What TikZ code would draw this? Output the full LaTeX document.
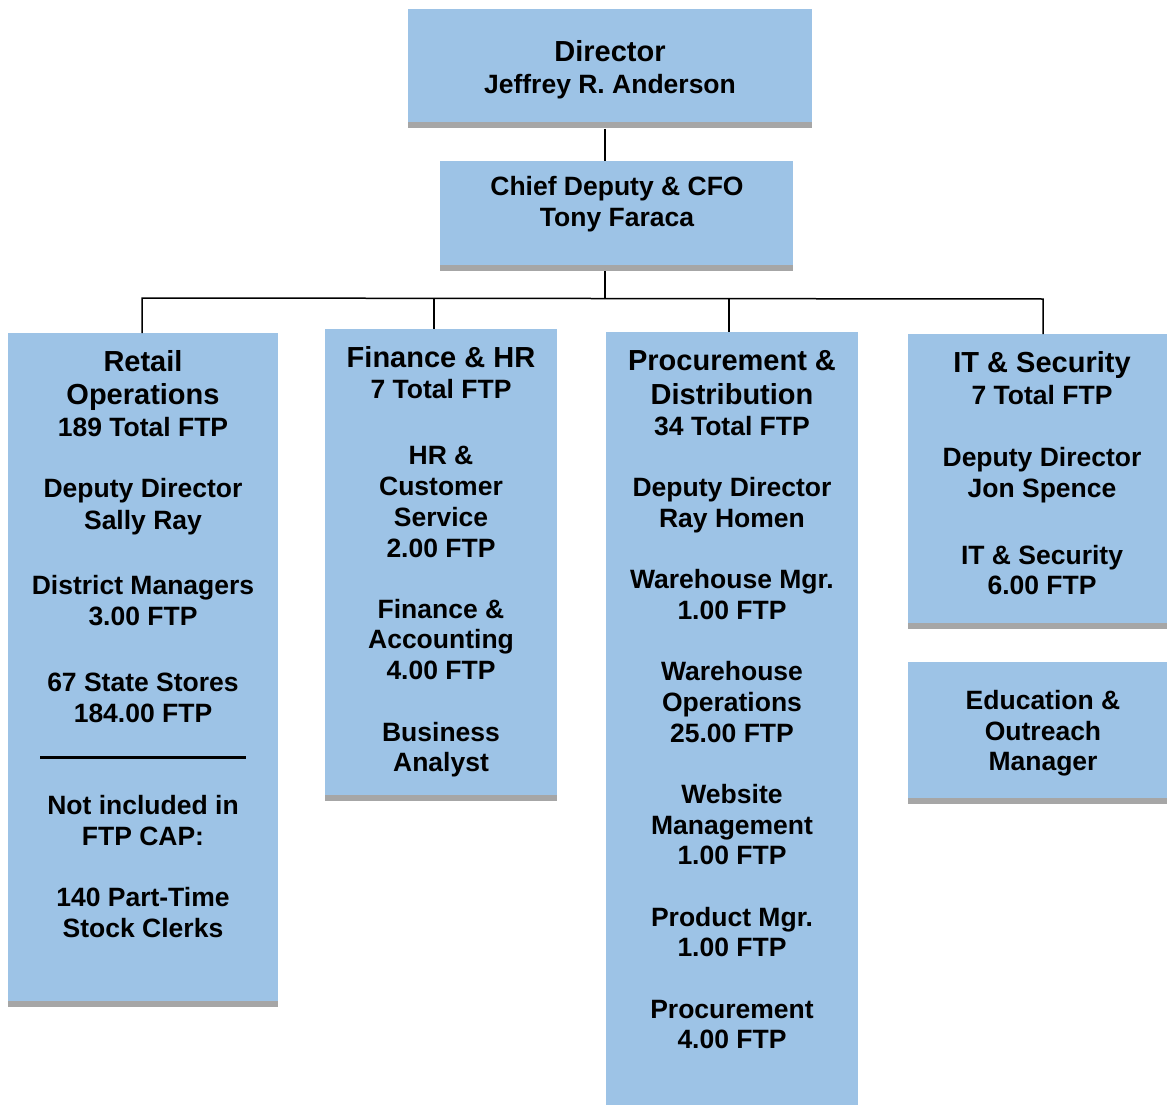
\documentclass[tikz,border=0pt]{standalone}
\usepackage{fontspec}
\setmainfont{Liberation Sans}
\definecolor{boxblue}{HTML}{9DC3E6}
\definecolor{shade}{HTML}{A6A6A6}
\begin{document}
\begin{tikzpicture}[x=1pt,y=-1pt,
  box/.style={fill=boxblue, draw=none, inner sep=0pt, anchor=north west},
  shd/.style={fill=shade},
  tl/.style={font=\fontsize{26.5}{31}\bfseries\selectfont, inner sep=0pt, anchor=base},
  hl/.style={font=\fontsize{29}{34}\bfseries\selectfont, inner sep=0pt, anchor=base},
  conn/.style={line width=1.5pt, black}]
\useasboundingbox (0,0) rectangle (1167,1105);
\clip (0,0) rectangle (1167,1105);
% boxes
\node[box, minimum width=404pt, minimum height=113pt] (dir) at (408,9) {};
\node[box, minimum width=353pt, minimum height=104pt] (chief) at (440,161) {};
\node[box, minimum width=270pt, minimum height=668pt] (ret) at (8,333) {};
\node[box, minimum width=232pt, minimum height=466pt] (fin) at (325,329) {};
\node[box, minimum width=252pt, minimum height=790pt] (proc) at (606,332) {};
\node[box, minimum width=268pt, minimum height=289pt] (it) at (908,334) {};
\node[box, minimum width=268pt, minimum height=136pt] (edu) at (908,662) {};
% shadows
\foreach \b in {dir,chief,ret,fin,it,edu}{
  \fill[shd] (\b.south west) rectangle ([yshift=-6pt]\b.south east);
}
% connectors
\coordinate (jD) at (605,129);
\coordinate (bar) at (605,298);
\coordinate (jR) at (142,298);
\coordinate (jF) at (434,298);
\coordinate (jP) at (729,298);
\coordinate (jI) at (1043,299);
\draw[conn] (jD) -- (jD |- chief.north);
\draw[conn] ([yshift=-6pt]chief.south -| bar) -- (bar);
\draw[conn] (jR |- ret.north) -- (jR) -- (jI) -- (jI |- it.north);
\draw[conn] (jF) -- (jF |- fin.north);
\draw[conn] (jP) -- (jP |- proc.north);
% rule in retail box
\coordinate (rl) at (40,757);
\coordinate (rr) at (246,757);
\draw[line width=3pt] (rl) -- (rr);
% texts
\node[hl] (dirH) at (610,61.4) {Director};
\node[tl] (dirT) at (610,93.5) {Jeffrey R. Anderson};
\node[tl] (chT1) at (617,195.5) {Chief Deputy \& CFO};
\node[tl] (chT2) at (617,226.5) {Tony Faraca};
\foreach \y/\s [count=\i] in {371.4/Retail,404.4/Operations}
  \node[hl] (retH\i) at (143,\y) {\s};
\foreach \y/\s [count=\i] in {436.5/189 Total FTP,497.5/Deputy Director,529.5/Sally Ray,594.5/District Managers,625.5/3.00 FTP,691.5/67 State Stores,722.5/184.00 FTP,814.5/Not included in,845.5/FTP CAP:,906.5/140 Part-Time,937.5/Stock Clerks}
  \node[tl] (retT\i) at (143,\y) {\s};
\node[hl] (finH1) at (441,367.4) {Finance \& HR};
\foreach \y/\s [count=\i] in {398.5/7 Total FTP,464.5/HR \&,495.5/Customer,526.5/Service,557.5/2.00 FTP,618.5/Finance \&,648.5/Accounting,679.5/4.00 FTP,741.5/Business,771.5/Analyst}
  \node[tl] (finT\i) at (441,\y) {\s};
\foreach \y/\s [count=\i] in {370.4/Procurement \&,404.4/Distribution}
  \node[hl] (procH\i) at (732,\y) {\s};
\foreach \y/\s [count=\i] in {435.5/34 Total FTP,496.5/Deputy Director,527.5/Ray Homen,588.5/Warehouse Mgr.,619.5/1.00 FTP,680.5/Warehouse,711.5/Operations,742.5/25.00 FTP,803.5/Website,834.5/Management,864.5/1.00 FTP,926.5/Product Mgr.,956.5/1.00 FTP,1018.5/Procurement,1048.5/4.00 FTP}
  \node[tl] (procT\i) at (732,\y) {\s};
\node[hl] (itH1) at (1042,372.4) {IT \& Security};
\foreach \y/\s [count=\i] in {404.5/7 Total FTP,466.5/Deputy Director,497.5/Jon Spence,564.5/IT \& Security,594.5/6.00 FTP}
  \node[tl] (itT\i) at (1042,\y) {\s};
\foreach \y/\s [count=\i] in {709.5/Education \&,740.5/Outreach,770.5/Manager}
  \node[tl] (eduT\i) at (1043,\y) {\s};
\end{tikzpicture}
\end{document}
